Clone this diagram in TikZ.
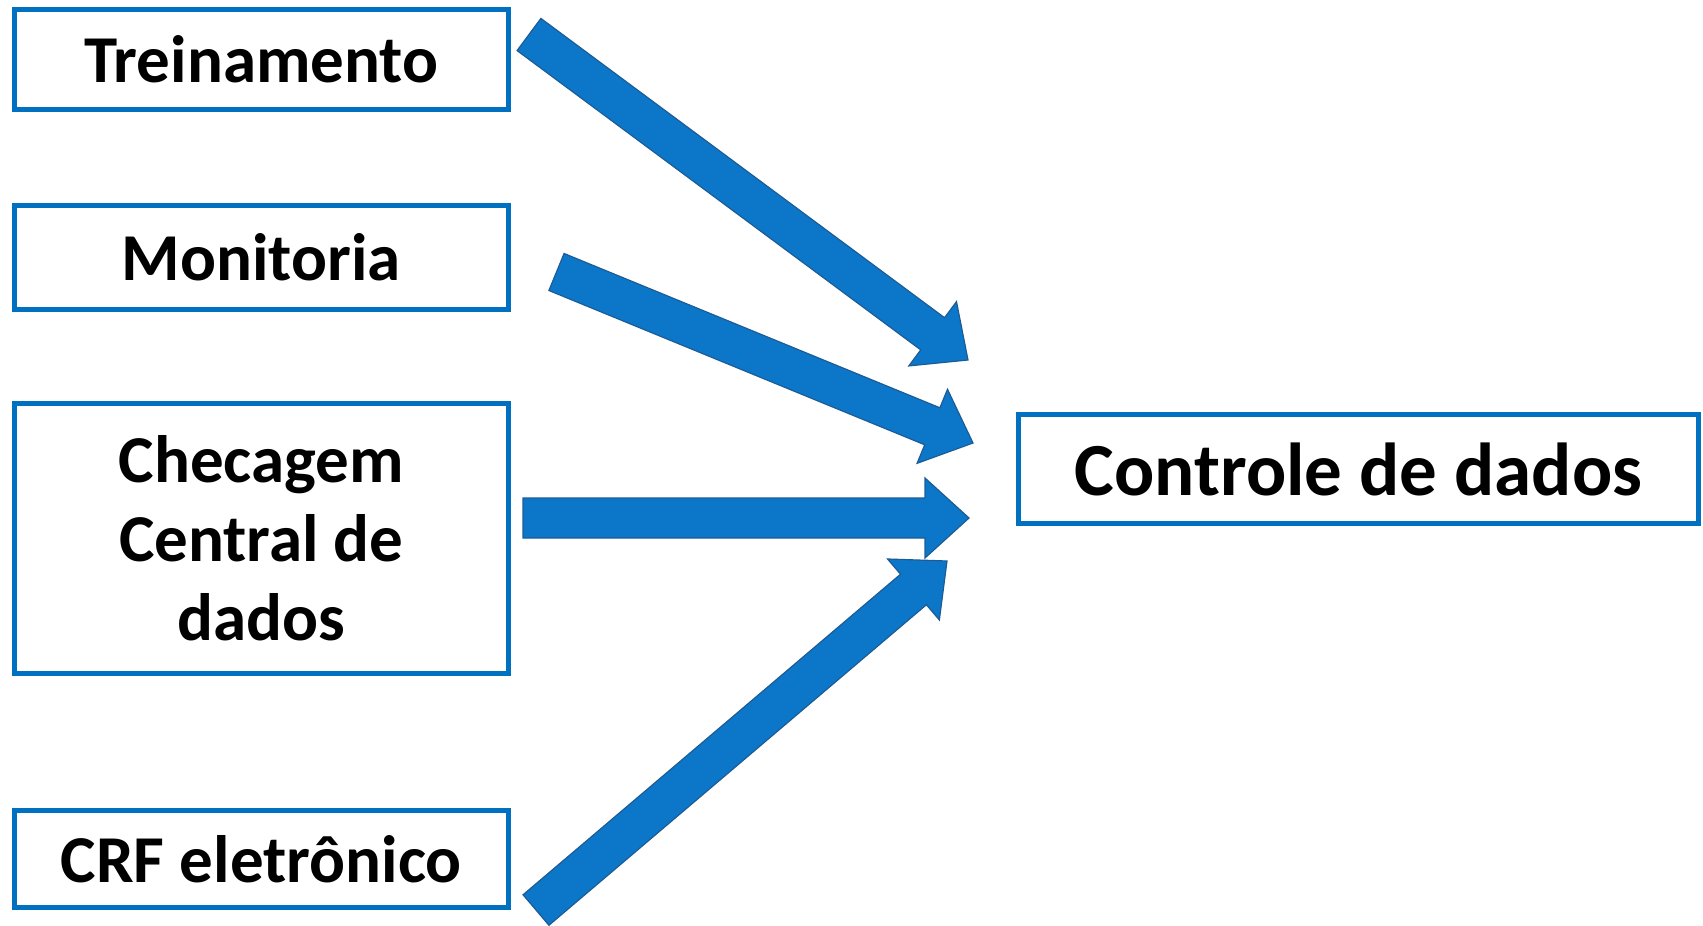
\documentclass[tikz,border=0pt]{standalone}
\usepackage{fontspec}
\setmainfont{Carlito}
\usetikzlibrary{calc}
\definecolor{boxblue}{RGB}{0,112,192}
\definecolor{arrowfill}{RGB}{12,119,201}
\definecolor{arrowedge}{RGB}{28,92,150}
\tikzset{
  labelbox/.style={draw=boxblue, line width=5pt, rectangle, inner sep=0pt, align=center,
    font=\fontsize{67}{79}\selectfont\bfseries},
  bigbox/.style={labelbox, font=\fontsize{75}{89}\selectfont\bfseries},
  blockarrow/.style={fill=arrowfill, draw=arrowedge, line width=1.2pt, line join=miter},
}
\newcommand\blockarr[2]{%
  \coordinate (#1-b) at ($(#2)!44pt!(#1)$);
  \path[blockarrow] ($(#1)!20pt!90:(#2)$) -- ($(#1-b)!20pt!90:(#2)$) -- ($(#1-b)!40pt!90:(#2)$)
    -- (#2) -- ($(#1-b)!40pt!-90:(#2)$) -- ($(#1-b)!20pt!-90:(#2)$) -- ($(#1)!20pt!-90:(#2)$) -- cycle;
}
\begin{document}
\begin{tikzpicture}[x=1pt, y=-1pt]
\useasboundingbox (0,0) rectangle (1703,926);
\node[labelbox, minimum width=493.5pt, minimum height=100pt] (trein) at (261.25,59.5) {Treinamento};
\node[labelbox, minimum width=493.5pt, minimum height=104pt] (monit) at (261.25,257.5) {Monitoria};
\node[labelbox, minimum width=493.5pt, minimum height=270pt] (checa) at (261.25,538.5) {Checagem\\Central de\\dados};
\node[labelbox, minimum width=493.5pt, minimum height=97pt] (crf) at (261.25,859) {CRF eletrônico};
\node[bigbox, minimum width=680pt, minimum height=109pt] (contr) at (1358.5,469) {Controle de dados};
\coordinate (a1t) at (529,34.5);  \coordinate (a1h) at (968,360);
\coordinate (a2t) at (556.5,272); \coordinate (a2h) at (973,443);
\coordinate (a3t) at (523,518);   \coordinate (a3h) at (969,518);
\coordinate (a4t) at (536,910);   \coordinate (a4h) at (947,561);
\blockarr{a1t}{a1h}
\blockarr{a2t}{a2h}
\blockarr{a3t}{a3h}
\blockarr{a4t}{a4h}
\end{tikzpicture}
\end{document}
